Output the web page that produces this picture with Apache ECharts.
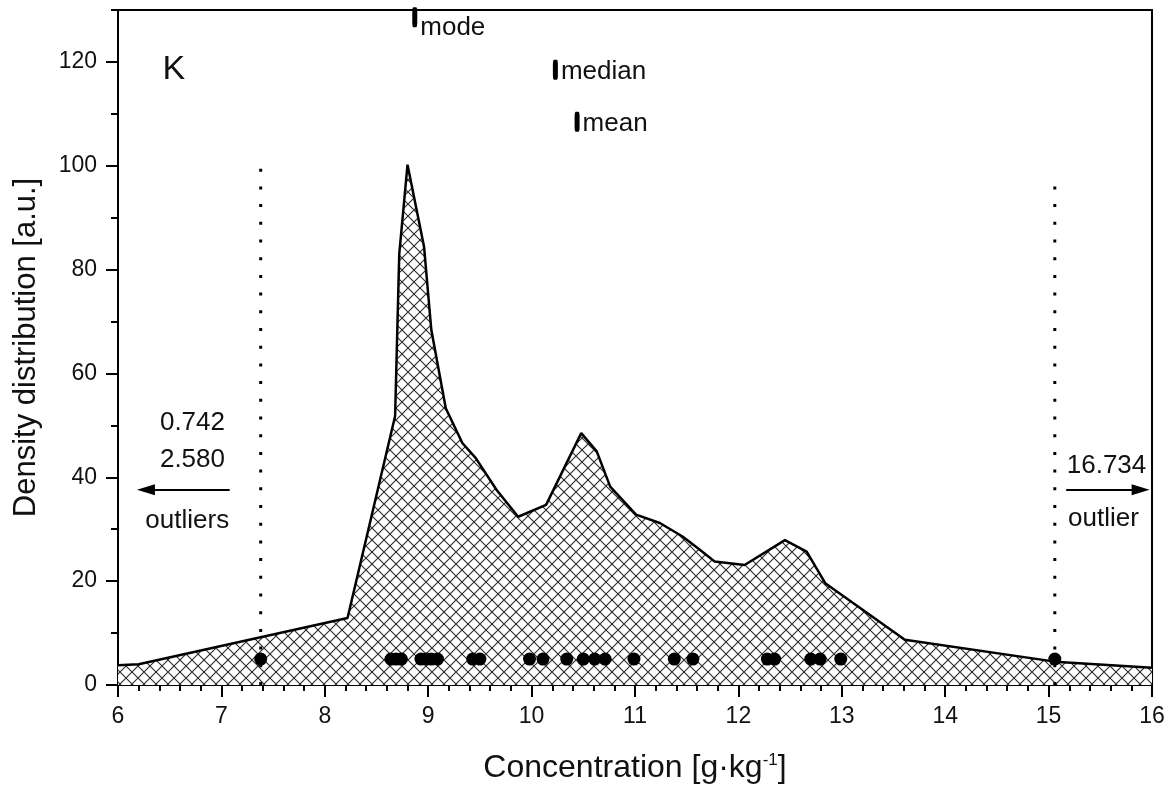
<!DOCTYPE html>
<html>
<head>
<meta charset="utf-8">
<title>K density distribution</title>
<script src="https://cdn.jsdelivr.net/npm/echarts@6/dist/echarts.min.js"></script>
<style>
  html, body { margin: 0; padding: 0; background: #fff; }
  #chart { width: 1176px; height: 796px; }
</style>
</head>
<body>
<div id="chart"></div>
<script>
// density curve (concentration, density)
var densX = [6.0, 6.2, 8.22, 8.68, 8.72, 8.80, 8.96, 9.03, 9.17, 9.33, 9.46, 9.66, 9.87, 10.14, 10.48, 10.63, 10.76, 11.01, 11.24, 11.46, 11.63, 11.77, 12.06, 12.45, 12.66, 12.84, 13.61, 15.06, 16.0];
var densY = [3.8, 4.0, 12.9, 51.8, 83.0, 100.2, 84.4, 68.4, 53.3, 46.6, 43.7, 37.6, 32.4, 34.7, 48.5, 45.0, 38.2, 32.8, 31.2, 28.6, 26.0, 23.8, 23.1, 27.9, 25.7, 19.6, 8.7, 4.5, 3.3];

// individual samples drawn as dots
var sampleX = [7.38, 8.64, 8.69, 8.74, 8.93, 8.98, 9.03, 9.09, 9.43, 9.50, 9.98, 10.11, 10.34, 10.50, 10.61, 10.71, 10.99, 11.38, 11.56, 12.28, 12.35, 12.70, 12.79, 12.99, 15.06];
var sampleLevel = 5;

// outlier cut-offs (dotted lines)
var cutX = [7.38, 15.06];
var cutTop = [100.5, 98];

// mode / median / mean markers
var statNames = ['mode', 'median', 'mean'];
var statX = [8.87, 10.23, 10.44];
var statY = [128.6, 118.5, 108.5];

var yTicks = [0, 20, 40, 60, 80, 100, 120];

var FONT = 'Liberation Sans, Arial, sans-serif';
var INK = '#111';

function makeHatch(){
    var c = document.createElement('canvas'),
        s = 12,
        ctx;
    c.width = s;
    c.height = s;
    ctx = c.getContext('2d');
    ctx.fillStyle = '#fff';
    ctx.fillRect(0, 0, s, s);
    ctx.strokeStyle = '#2a2a2a';
    ctx.lineWidth = 1.1;
    ctx.beginPath();
    ctx.moveTo(-1, -1); ctx.lineTo(s + 1, s + 1);
    ctx.moveTo(s + 1, -1); ctx.lineTo(-1, s + 1);
    ctx.stroke();
    return c;
}

var densData = densX.map(function(x, i){ return [x, densY[i]]; });
var sampleData = sampleX.map(function(x){ return [x, sampleLevel]; });
var statData = statNames.map(function(n, i){ return { name: n, value: [statX[i], statY[i]] }; });

var cutSeries = cutX.map(function(x, i){
    return {
        type: 'line',
        data: [[x, 0], [x, cutTop[i]]],
        symbol: 'none',
        silent: true,
        z: 4,
        lineStyle: { color: '#000', width: 3, type: [3, 14.7] }
    };
});

var notes = [
    { name: '0.742', value: [6.72, 50.5] },
    { name: '2.580', value: [6.72, 43.4] },
    { name: 'outliers', value: [6.67, 31.6] },
    { name: '16.734', value: [15.56, 42.2] },
    { name: 'outlier', value: [15.53, 32.0] },
    { name: 'K', value: [6.54, 118.5], label: { fontSize: 34 } }
];

var chart = echarts.init(document.getElementById('chart'));

chart.setOption({
    animation: false,
    backgroundColor: '#fff',
    grid: {
        left: 118, right: 24, top: 10, bottom: 111,
        show: true, borderColor: '#000', borderWidth: 2
    },
    xAxis: {
        type: 'value',
        min: 6, max: 16, interval: 1,
        name: 'Concentration [g·kg{sup|-1}]',
        nameLocation: 'middle',
        nameGap: 67,
        nameTextStyle: {
            fontFamily: FONT, fontSize: 32, color: INK,
            rich: { sup: { fontFamily: FONT, fontSize: 17, color: INK, verticalAlign: 'top', padding: [0, 0, 14, 0] } }
        },
        axisLine: { show: true, lineStyle: { color: '#000', width: 2 } },
        axisTick: { show: true, inside: false, length: 12, lineStyle: { color: '#000', width: 2 } },
        minorTick: { show: true, splitNumber: 5, length: 6, lineStyle: { color: '#000', width: 2 } },
        axisLabel: { fontFamily: FONT, fontSize: 23, color: INK, margin: 20 },
        splitLine: { show: false }
    },
    yAxis: [{
        type: 'value',
        min: 0, max: 130, interval: 20,
        name: 'Density distribution [a.u.]',
        nameLocation: 'middle',
        nameGap: 76,
        nameTextStyle: { fontFamily: FONT, fontSize: 31, color: INK },
        axisLine: { show: true, lineStyle: { color: '#000', width: 2 } },
        axisTick: { show: true, inside: false, length: 12, lineStyle: { color: '#000', width: 2 } },
        axisLabel: {
            fontFamily: FONT, fontSize: 23, color: INK, margin: 21,
            showMaxLabel: false,
            formatter: function(v){ return yTicks.indexOf(v) >= 0 ? String(v) : ''; }
        },
        splitLine: { show: false }
    }, {
        type: 'value',
        min: 0, max: 130, interval: 10,
        position: 'left',
        axisLine: { show: false },
        axisTick: { show: true, inside: false, length: 7, lineStyle: { color: '#000', width: 2 } },
        axisLabel: { show: false },
        splitLine: { show: false }
    }],
    series: [{
        type: 'line',
        data: densData,
        symbol: 'none',
        z: 2,
        lineStyle: { color: '#000', width: 2.5 },
        areaStyle: { color: { image: makeHatch(), repeat: 'repeat' }, opacity: 1, origin: 'start' }
    }, {
        type: 'scatter',
        data: sampleData,
        symbol: 'circle',
        symbolSize: 13,
        z: 5,
        itemStyle: { color: '#000', opacity: 1 }
    }].concat(cutSeries, [{
        type: 'scatter',
        data: statData,
        symbol: 'roundRect',
        symbolSize: [5, 20],
        clip: false,
        z: 6,
        itemStyle: { color: '#000', opacity: 1 },
        label: {
            show: true, position: 'right', distance: 3,
            formatter: '{b}', fontFamily: FONT, fontSize: 26, color: INK
        },
        labelLayout: function(p){
            return p.dataIndex === 0 ? { dy: 11 } : { dy: 2 };
        }
    }, {
        type: 'scatter',
        data: notes,
        symbolSize: 0,
        silent: true,
        z: 6,
        itemStyle: { opacity: 1 },
        label: {
            show: true, position: 'inside',
            formatter: '{b}', fontFamily: FONT, fontSize: 26, color: INK
        },
        markLine: {
            silent: true,
            symbol: ['none', 'triangle'],
            symbolSize: [11, 18],
            label: { show: false },
            lineStyle: { color: '#000', width: 2, type: 'solid', opacity: 1 },
            itemStyle: { color: '#000' },
            data: [
                [{ coord: [7.08, 37.6] }, { coord: [6.27, 37.6] }],
                [{ coord: [15.17, 37.6] }, { coord: [15.89, 37.6] }]
            ]
        }
    }])
});
</script>
</body>
</html>
